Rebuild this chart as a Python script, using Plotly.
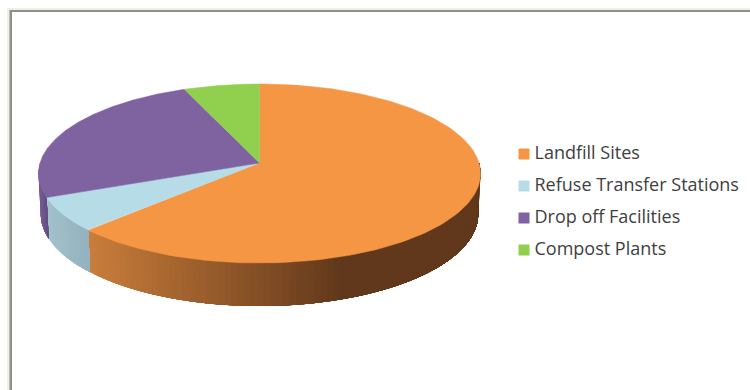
import numpy as np
import plotly.graph_objects as go

categories = ["Landfill Sites", "Refuse Transfer Stations", "Drop off Facilities", "Compost Plants"]
shares = [62.7, 6.2, 24.9, 6.2]
top_colors = ["#F49644", "#B6DCE7", "#7F62A0", "#91CF4F"]
side_start = ["#C97D3B", "#A3C1CC", "#755A94", "#7FB545"]
side_end = ["#61381B", "#92B2BD", "#5F4A7A", "#6E9C3C"]

# Perspective of the disc: unit circle seen from above and in front.
CX, CY = 259.5, 163.0
RX, RY, TILT = 219.5, 88.3, 0.1173
DEPTH, DEPTH_SLOPE, LOWER_SCALE = 40.0, 3.0, 0.99
SHADE_LIMIT_X = 340.0


def project(theta, lower=False):
    u, v = np.sin(theta), np.cos(theta)
    w = 1 + TILT * v
    x = CX + RX * u / w
    y = CY - RY * v / w
    if lower:
        x = CX + (x - CX) * LOWER_SCALE
        y = y + DEPTH - DEPTH_SLOPE * v
    return x, y


def rgb(code):
    return np.array([int(code[k:k + 2], 16) for k in (1, 3, 5)])


fig = go.Figure()

edges = np.cumsum([0] + shares) / sum(shares) * 2 * np.pi

# Rim of the disc: overlapping bands painted from left to right, so no seams show
# between the steps of the shading.
for i in range(len(shares)):
    a, b = edges[i], edges[i + 1]
    lo, hi = max(a, np.pi / 2), min(b, 3 * np.pi / 2)
    if lo >= hi:
        continue
    steps = np.linspace(hi, lo, max(2, int((hi - lo) / np.radians(1.5)) + 1))
    x_left = project(hi)[0]
    x_right = min(project(lo)[0], SHADE_LIMIT_X)
    for s in steps[:-1]:
        arc = np.linspace(s, lo, 90)
        xt, yt = project(arc)
        xb, yb = project(arc, True)
        t = np.clip((project(s)[0] - x_left) / (x_right - x_left), 0, 1)
        r, g, bl = (rgb(side_start[i]) + (rgb(side_end[i]) - rgb(side_start[i])) * t).astype(int)
        col = f"rgb({r},{g},{bl})"
        fig.add_trace(go.Scatter(x=np.r_[xt, xb[::-1], xt[0]], y=np.r_[yt, yb[::-1], yt[0]],
                                 mode="lines", fill="toself", fillcolor=col,
                                 line=dict(width=0),
                                 hoverinfo="skip", showlegend=False))

# Upper face of each slice.
for i in range(len(shares)):
    theta = np.linspace(edges[i], edges[i + 1], 160)
    x, y = project(theta)
    fig.add_trace(go.Scatter(x=np.r_[CX, x, CX], y=np.r_[CY, y, CY],
                             mode="lines", fill="toself", fillcolor=top_colors[i],
                             line=dict(color=top_colors[i], width=0.5),
                             name=categories[i], showlegend=False,
                             hovertemplate=f"{categories[i]}: {shares[i]}%<extra></extra>"))

# Legend keys and labels.
legend_y = [154, 186, 218, 250]
fig.add_trace(go.Scatter(x=[524] * 4, y=legend_y, mode="markers",
                         marker=dict(symbol="square", size=11, color=top_colors),
                         hoverinfo="skip", showlegend=False))
fig.add_trace(go.Scatter(x=[534.5] * 4, y=[v + 0.5 for v in legend_y], mode="text",
                         text=categories, textposition="middle right",
                         textfont=dict(family="Open Sans", size=18, color="#404040"),
                         hoverinfo="skip", showlegend=False))

frame = [
    dict(x0=7, x1=750, y0=8, y1=390, color="#F1EFE3"),
    dict(x0=9.5, x1=750, y0=10, y1=390, color="#8E8E8E"),
    dict(x0=12, x1=750, y0=12, y1=390, color="#FFFFFF"),
]
fig.update_layout(
    width=750, height=390, margin=dict(l=0, r=0, t=0, b=0),
    paper_bgcolor="white", plot_bgcolor="white", showlegend=False,
    xaxis=dict(range=[0, 750], visible=False, fixedrange=True),
    yaxis=dict(range=[390, 0], visible=False, fixedrange=True),
    shapes=[dict(type="rect", xref="x", yref="y", x0=f["x0"], x1=f["x1"], y0=f["y0"], y1=f["y1"],
                 fillcolor=f["color"], line=dict(width=0), layer="below") for f in frame],
)
fig.write_html("out.html", config=dict(displayModeBar=False))
